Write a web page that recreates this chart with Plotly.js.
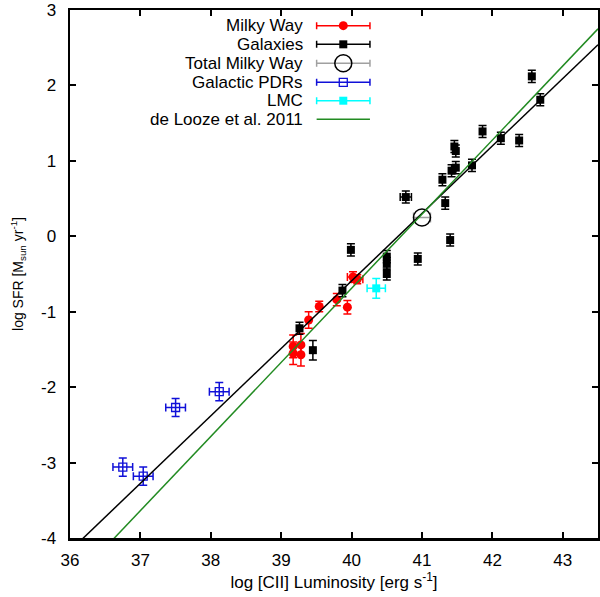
<!DOCTYPE html>
<html>
<head>
<meta charset="utf-8">
<script src="https://cdn.plot.ly/plotly-3.0.1.min.js"></script>
<style>
  html, body { margin: 0; padding: 0; background: #fff; }
  #chart { width: 600px; height: 597px; }
</style>
</head>
<body>
<div id="chart"></div>
<script>
// Milky Way [CII] clouds
const mwX = [40.02, 40.08, 39.79, 39.94, 39.54, 39.39, 39.17, 39.28, 39.17, 39.28];
const mwY = [-0.54, -0.57, -0.84, -0.94, -0.93, -1.11, -1.46, -1.44, -1.55, -1.57];
const mwErrY = [0.07, 0.06, 0.08, 0.09, 0.07, 0.11, 0.15, 0.15, 0.15, 0.15];
const mwErrX = [0.08, 0.08, 0, 0, 0, 0, 0, 0, 0, 0];

// galaxies
const galX = [42.56, 42.68, 41.86, 42.12, 42.38, 41.46, 41.48, 41.71, 41.48, 41.42, 41.29,
              40.77, 41.33, 41.40, 39.99, 40.94, 40.50, 40.50, 40.50, 39.87, 39.26, 39.45];
const galY = [2.12, 1.81, 1.39, 1.30, 1.27, 1.19, 1.13, 0.94, 0.91, 0.87, 0.75,
              0.52, 0.44, -0.05, -0.18, -0.30, -0.27, -0.36, -0.50, -0.72, -1.22, -1.51];
const galErrY = [0.08, 0.08, 0.08, 0.08, 0.08, 0.08, 0.08, 0.08, 0.08, 0.08, 0.08,
                 0.08, 0.08, 0.08, 0.08, 0.08, 0.08, 0.08, 0.08, 0.08, 0.08, 0.13];
const galErrX = [0, 0, 0, 0, 0, 0, 0, 0, 0, 0, 0,
                 0.08, 0, 0, 0, 0, 0, 0, 0, 0, 0, 0];

// total Milky Way
const totX = [41.0];
const totY = [0.25];
const totErrX = [0.12];

// Galactic PDRs
const pdrX = [36.75, 37.04, 37.50, 38.12];
const pdrY = [-3.06, -3.18, -2.27, -2.06];
const pdrErrX = [0.14, 0.14, 0.14, 0.14];
const pdrErrY = [0.12, 0.12, 0.12, 0.12];

// LMC
const lmcX = [40.35];
const lmcY = [-0.69];
const lmcErrX = [0.13];
const lmcErrY = [0.13];

// fits (end points)
const fitX = [36.0, 43.5];
const fitY = [-4.17, 2.54];
const delooX = [36.6, 43.5];
const delooY = [-4.03, 2.75];

// axes
const xTicks = [36, 37, 38, 39, 40, 41, 42, 43];
const xTickText = ['36', '37', '38', '39', '40', '41', '42', '43'];
const yTicks = [-4, -3, -2, -1, 0, 1, 2, 3];
const yTickText = ['-4', '-3', '-2', '-1', '0', '1', '2', '3'];

// legend (text right-aligned, sample to the right)
const legNames = ['Milky Way', 'Galaxies', 'Total Milky Way', 'Galactic PDRs', 'LMC', 'de Looze et al. 2011'];
const legRowY = [0.9703, 0.9350, 0.8991, 0.8631, 0.8282, 0.7930];

const RED = '#ff0000', BLUE = '#1010d8', CYAN = '#00ffff', GRAY = '#a0a0a0', GREEN = '#228b22';

const errStyle = (arr, color, w) => ({
  type: 'data', array: arr, visible: true, color: color, thickness: 1.5, width: w
});

const traces = [
  {
    x: mwX, y: mwY, type: 'scatter', mode: 'markers',
    marker: { symbol: 'circle', size: 9, color: RED },
    error_y: errStyle(mwErrY, RED, 4), error_x: errStyle(mwErrX, RED, 4)
  },
  {
    x: galX, y: galY, type: 'scatter', mode: 'markers',
    marker: { symbol: 'square', size: 8, color: '#000' },
    error_y: errStyle(galErrY, '#000', 4), error_x: errStyle(galErrX, '#000', 4)
  },
  {
    x: totX, y: totY, type: 'scatter', mode: 'markers',
    marker: { symbol: 'circle-open', size: 17, color: '#000', line: { width: 1.5 } },
    error_x: errStyle(totErrX, GRAY, 5)
  },
  {
    x: pdrX, y: pdrY, type: 'scatter', mode: 'markers',
    marker: { symbol: 'square-open', size: 8, color: BLUE, line: { width: 1.3 } },
    error_y: errStyle(pdrErrY, BLUE, 4), error_x: errStyle(pdrErrX, BLUE, 4)
  },
  {
    x: lmcX, y: lmcY, type: 'scatter', mode: 'markers',
    marker: { symbol: 'square', size: 8, color: CYAN },
    error_y: errStyle(lmcErrY, CYAN, 4), error_x: errStyle(lmcErrX, CYAN, 4)
  },
  {
    x: fitX, y: fitY, type: 'scatter', mode: 'lines',
    line: { color: '#000', width: 1.5 }
  },
  {
    x: delooX, y: delooY, type: 'scatter', mode: 'lines',
    line: { color: GREEN, width: 1.5 }
  }
];

// legend samples on an overlay axis pair with [0,1] ranges
const legMarkX = 0.5176, legHalf = 0.0505;
const legStyles = [
  { marker: { symbol: 'circle', size: 9, color: RED }, c: RED },
  { marker: { symbol: 'square', size: 8, color: '#000' }, c: '#000' },
  { marker: { symbol: 'circle-open', size: 17, color: '#000', line: { width: 1.5 } }, c: GRAY },
  { marker: { symbol: 'square-open', size: 8, color: BLUE, line: { width: 1.3 } }, c: BLUE },
  { marker: { symbol: 'square', size: 8, color: CYAN }, c: CYAN }
];
legStyles.forEach((s, i) => {
  traces.push({
    x: [legMarkX], y: [legRowY[i]], xaxis: 'x2', yaxis: 'y2',
    type: 'scatter', mode: 'markers', marker: s.marker,
    error_x: { type: 'constant', value: legHalf, color: s.c, thickness: 1.5, width: 3.5 }
  });
});
traces.push({
  x: [legMarkX - legHalf, legMarkX + legHalf], y: [legRowY[5], legRowY[5]],
  xaxis: 'x2', yaxis: 'y2', type: 'scatter', mode: 'lines',
  line: { color: GREEN, width: 1.5 }
});

const annotations = legNames.map((name, i) => ({
  xref: 'paper', yref: 'paper', x: 0.445, y: legRowY[i],
  xanchor: 'right', yanchor: 'middle', text: name, showarrow: false,
  font: { size: 17, color: '#000' }
}));

const axisCommon = {
  showgrid: false, zeroline: false, showline: true, linecolor: '#000', linewidth: 2.5,
  mirror: 'ticks', ticks: 'inside', ticklen: 6, tickwidth: 2, tickcolor: '#000',
  tickfont: { size: 17, color: '#000' }
};

const layout = {
  width: 600, height: 597,
  margin: { l: 70, r: 2, t: 10, b: 59 },
  paper_bgcolor: '#fff', plot_bgcolor: '#fff',
  font: { family: 'Liberation Sans, Arial, sans-serif', color: '#000' },
  showlegend: false,
  xaxis: Object.assign({}, axisCommon, {
    range: [36, 43.5], tickvals: xTicks, ticktext: xTickText, ticklabelstandoff: 5,
    title: { text: 'log [CII] Luminosity [erg s<sup>-1</sup>]', font: { size: 17 }, standoff: 6 }
  }),
  yaxis: Object.assign({}, axisCommon, {
    range: [-4, 3], tickvals: yTicks, ticktext: yTickText, ticklabelstandoff: 8,
    title: { text: 'log SFR [M<sub>sun</sub> yr<sup>-1</sup>]', font: { size: 14 }, standoff: 14 }
  }),
  xaxis2: { overlaying: 'x', range: [0, 1], visible: false, fixedrange: true },
  yaxis2: { overlaying: 'y', range: [0, 1], visible: false, fixedrange: true },
  annotations: annotations
};

Plotly.newPlot('chart', traces, layout, { displayModeBar: false, staticPlot: true });
</script>
</body>
</html>
